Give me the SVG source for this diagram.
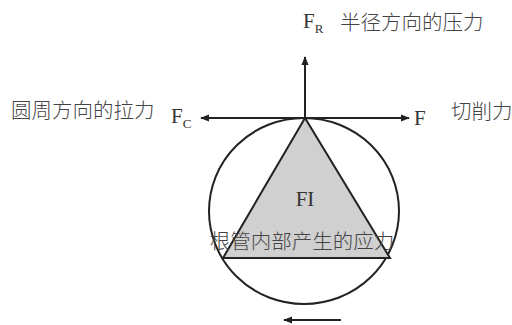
<svg xmlns="http://www.w3.org/2000/svg" width="512" height="325" viewBox="0 0 512 325">
<style>
.t{font-family:"Liberation Serif","Noto Sans CJK SC",serif;fill:#333;font-size:21px}
.c{font-family:"Noto Sans CJK SC",sans-serif;fill:#444;font-size:20.5px;font-weight:300}
.l{stroke:#222;stroke-width:2;fill:none}
</style>
<defs>
<marker id="ah" viewBox="0 0 10 10" refX="9" refY="5" markerWidth="9" markerHeight="9" markerUnits="userSpaceOnUse" orient="auto">
<path d="M0,1 L10,5 L0,9 Z" fill="#222"/>
</marker>
</defs>
<rect width="512" height="325" fill="#fff"/>
<g id="circle"><ellipse cx="304" cy="211" rx="95" ry="93" class="l"/></g>
<g id="triangle">
<polygon points="305,118 223,258 390,258" fill="#d0d0d0" stroke="#222" stroke-width="2"/>
<text class="t" x="305" y="206" text-anchor="middle">FI</text>
<text class="c" x="302" y="249" text-anchor="middle">根管内部产生的应力</text>
</g>
<g id="connectors">
<line x1="305" y1="118" x2="305" y2="57" class="l" marker-end="url(#ah)"/>
<line x1="305" y1="118" x2="201" y2="118" class="l" marker-end="url(#ah)"/>
<line x1="305" y1="118" x2="409" y2="118" class="l" marker-end="url(#ah)"/>
<line x1="341" y1="320" x2="284" y2="320" class="l" marker-end="url(#ah)"/>
</g>
<g id="labelFR">
<text class="t" x="303" y="28">F<tspan font-size="13" dy="5">R</tspan></text>
<text class="c" x="340" y="30">半径方向的压力</text>
</g>
<g id="labelFC">
<text class="c" x="11" y="118">圆周方向的拉力</text>
<text class="t" x="171" y="123">F<tspan font-size="13" dy="5">C</tspan></text>
</g>
<g id="labelF">
<text class="t" x="414" y="125">F</text>
<text class="c" x="451" y="119">切削力</text>
</g>
</svg>
